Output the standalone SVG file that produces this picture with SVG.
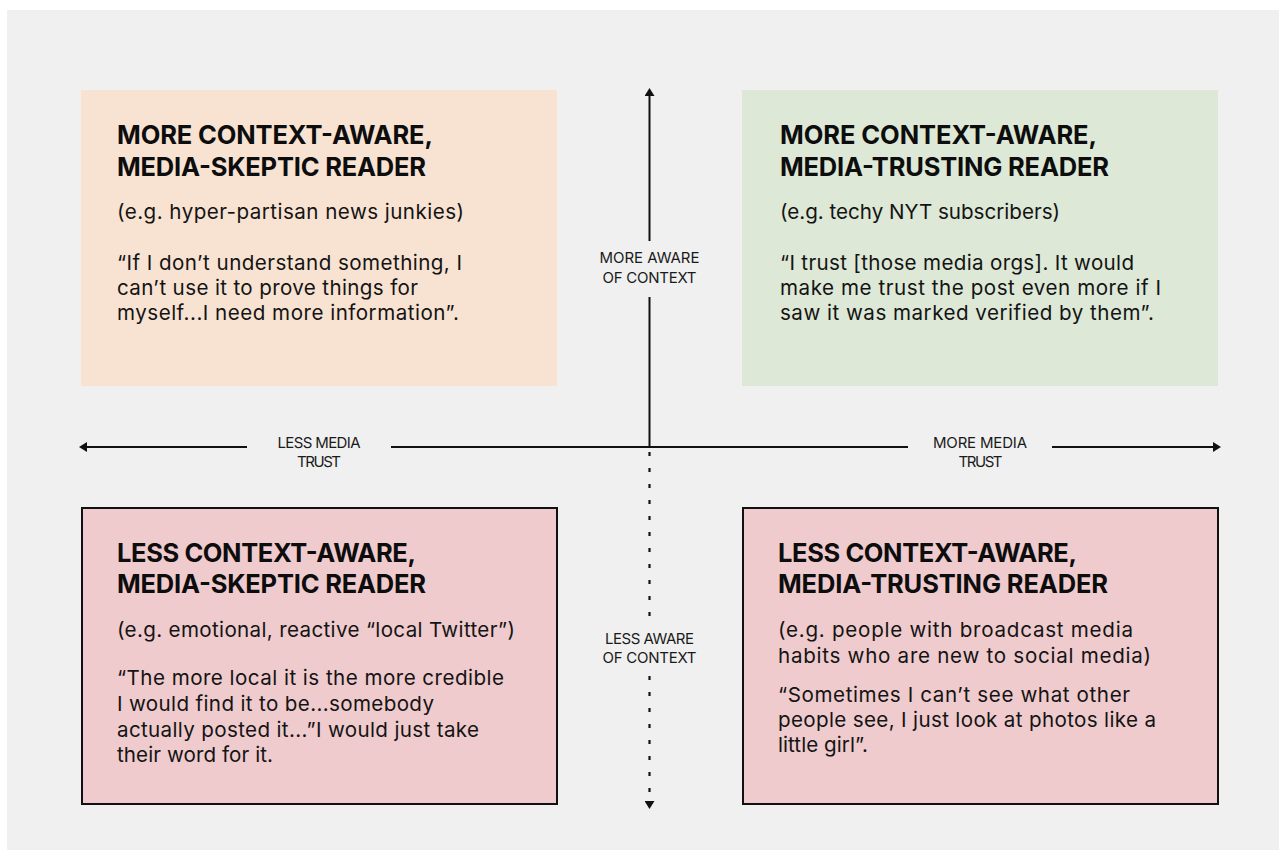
<svg xmlns="http://www.w3.org/2000/svg" width="1279" height="850" viewBox="0 0 1279 850">
<style>
.h{font-family:Inter,"Open Sans","Liberation Sans",sans-serif;font-weight:700;font-size:25.5px;fill:#0d0d0d}
.b{font-family:Inter,"Open Sans","Liberation Sans",sans-serif;font-weight:400;font-size:20.6px;fill:#141414}
.ax{font-family:Inter,"Open Sans","Liberation Sans",sans-serif;font-weight:400;font-size:15px;fill:#1a1a1a;text-anchor:middle}
.ln{stroke:#111;stroke-width:2;fill:none}
.dot{stroke:#111;stroke-width:2.2;fill:none;stroke-dasharray:4 12}
</style>
<defs>
<marker id="arr" viewBox="0 0 8 10" refX="4" refY="5" markerWidth="8" markerHeight="10" orient="auto" markerUnits="userSpaceOnUse">
<path d="M0,0 L8,5 L0,10 z" fill="#111"/>
</marker>
</defs>
<rect x="0" y="0" width="1279" height="850" fill="#ffffff"/>
<rect x="7" y="10" width="1272" height="840" fill="#f0f0f0"/>

<g id="connectors">
<path class="ln" d="M649.5,241 L649.5,92" marker-end="url(#arr)"/>
<path class="ln" d="M649.5,297 L649.5,447"/>
<path class="dot" d="M649.5,452 L649.5,622"/>
<path class="dot" d="M649.5,676 L649.5,805" marker-end="url(#arr)"/>
<path class="ln" d="M247,447 L83,447" marker-end="url(#arr)"/>
<path class="ln" d="M391,447 L908,447"/>
<path class="ln" d="M1052,447 L1217,447" marker-end="url(#arr)"/>
</g>

<g id="label-more-aware">
<text class="ax" x="649.5" y="263" textLength="100">MORE AWARE</text>
<text class="ax" x="649.5" y="283" textLength="94">OF CONTEXT</text>
</g>
<g id="label-less-aware">
<text class="ax" x="649.5" y="644" textLength="89">LESS AWARE</text>
<text class="ax" x="649.5" y="663" textLength="94">OF CONTEXT</text>
</g>
<g id="label-less-trust">
<text class="ax" x="319" y="448" textLength="83">LESS MEDIA</text>
<text class="ax" x="319" y="467" textLength="44">TRUST</text>
</g>
<g id="label-more-trust">
<text class="ax" x="980" y="448" textLength="94">MORE MEDIA</text>
<text class="ax" x="980.5" y="467" textLength="44">TRUST</text>
</g>

<g id="node-tl">
<rect x="81" y="90" width="476" height="296" fill="#f8e3d3"/>
<text class="h" x="117" y="144" textLength="316">MORE CONTEXT-AWARE,</text>
<text class="h" x="117" y="176" textLength="309">MEDIA-SKEPTIC READER</text>
<text class="b" x="117" y="219" textLength="347">(e.g. hyper-partisan news junkies)</text>
<text class="b" x="117" y="270" textLength="345">“If I don’t understand something, I</text>
<text class="b" x="117" y="295" textLength="301">can’t use it to prove things for</text>
<text class="b" x="117" y="320" textLength="342">myself...I need more information”.</text>
</g>

<g id="node-tr">
<rect x="742" y="90" width="476" height="296" fill="#dde8d7"/>
<text class="h" x="780" y="144" textLength="317">MORE CONTEXT-AWARE,</text>
<text class="h" x="780" y="176" textLength="329">MEDIA-TRUSTING READER</text>
<text class="b" x="780" y="219" textLength="280">(e.g. techy NYT subscribers)</text>
<text class="b" x="780" y="270" textLength="354">“I trust [those media orgs]. It would</text>
<text class="b" x="780" y="295" textLength="381">make me trust the post even more if I</text>
<text class="b" x="780" y="320" textLength="374">saw it was marked verified by them”.</text>
</g>

<g id="node-bl">
<rect x="82" y="508" width="475" height="296" fill="#efcbce" stroke="#111" stroke-width="2"/>
<text class="h" x="117" y="562" textLength="299">LESS CONTEXT-AWARE,</text>
<text class="h" x="117" y="593" textLength="309">MEDIA-SKEPTIC READER</text>
<text class="b" x="117" y="637" textLength="398">(e.g. emotional, reactive “local Twitter”)</text>
<text class="b" x="117" y="685" textLength="387">“The more local it is the more credible</text>
<text class="b" x="117" y="711" textLength="317">I would find it to be...somebody</text>
<text class="b" x="117" y="737" textLength="362">actually posted it...”I would just take</text>
<text class="b" x="117" y="762" textLength="156">their word for it.</text>
</g>

<g id="node-br">
<rect x="743" y="508" width="475" height="296" fill="#efcbce" stroke="#111" stroke-width="2"/>
<text class="h" x="778" y="562" textLength="299">LESS CONTEXT-AWARE,</text>
<text class="h" x="778" y="593" textLength="330">MEDIA-TRUSTING READER</text>
<text class="b" x="778" y="637" textLength="355">(e.g. people with broadcast media</text>
<text class="b" x="778" y="663" textLength="373">habits who are new to social media)</text>
<text class="b" x="778" y="702" textLength="352">“Sometimes I can’t see what other</text>
<text class="b" x="778" y="727" textLength="378">people see, I just look at photos like a</text>
<text class="b" x="778" y="752" textLength="90">little girl”.</text>
</g>
</svg>
